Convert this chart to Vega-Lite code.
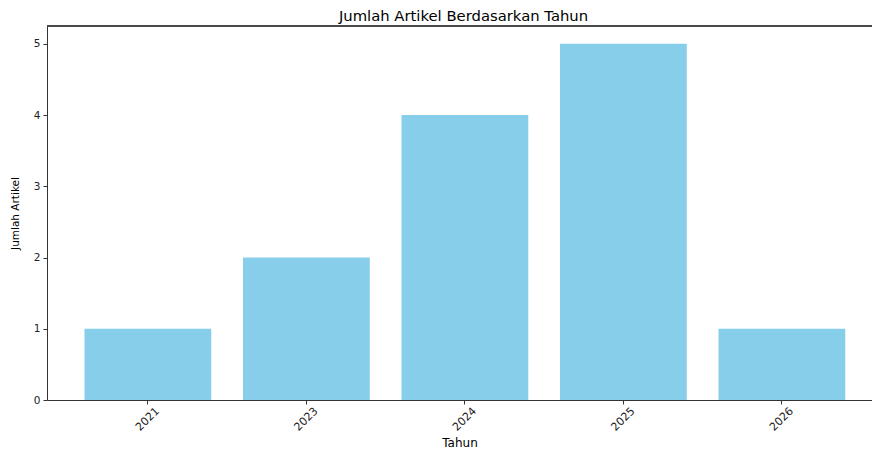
{
  "$schema": "https://vega.github.io/schema/vega-lite/v6.json",
  "width": 825,
  "height": 374,
  "autosize": "none",
  "padding": {"left": 47, "top": 26, "right": 0, "bottom": 50},
  "background": "white",
  "config": {
    "font": "DejaVu Sans",
    "view": {"stroke": null}
  },
  "title": {
    "text": "Jumlah Artikel Berdasarkan Tahun",
    "fontSize": 14.8,
    "fontWeight": "normal",
    "color": "#000",
    "anchor": "middle",
    "dx": 4,
    "dy": 16,
    "offset": 3,
    "baseline": "bottom"
  },
  "data": {
    "values": [
      {"Tahun": "2021", "Jumlah": 1},
      {"Tahun": "2023", "Jumlah": 2},
      {"Tahun": "2024", "Jumlah": 4},
      {"Tahun": "2025", "Jumlah": 5},
      {"Tahun": "2026", "Jumlah": 1}
    ]
  },
  "layer": [
    {
      "mark": {"type": "bar", "color": "#87CEEB"},
      "encoding": {
        "x": {
          "field": "Tahun",
          "type": "nominal",
          "scale": {"paddingInner": 0.2, "paddingOuter": 0.2025, "align": 0.584},
          "axis": {
            "title": "Tahun",
            "titleFontSize": 12,
            "titleFontWeight": "normal",
            "titleColor": "#000",
            "titleY": 46,
            "titleBaseline": "alphabetic",
            "labelAngle": -45,
            "labelAlign": "center",
            "labelBaseline": "middle",
            "labelPadding": 15,
            "labelFontSize": 11,
            "labelColor": "#222",
            "tickSize": 4,
            "tickColor": "#000",
            "tickWidth": 0.8,
            "domainColor": "#333",
            "domainWidth": 1,
            "grid": false
          }
        },
        "y": {
          "field": "Jumlah",
          "type": "quantitative",
          "scale": {"domain": [0, 5.25], "nice": false},
          "axis": {
            "title": "Jumlah Artikel",
            "titleFontSize": 10.5,
            "titleFontWeight": "normal",
            "titleColor": "#000",
            "titleX": -32,
            "titleY": 187,
            "titleAlign": "center",
            "titleBaseline": "middle",
            "titleAngle": -90,
            "values": [0, 1, 2, 3, 4, 5],
            "format": "d",
            "labelFontSize": 10.5,
            "labelColor": "#222",
            "labelPadding": 3,
            "tickSize": 4,
            "tickColor": "#000",
            "tickWidth": 0.8,
            "domainColor": "#333",
            "domainWidth": 1,
            "grid": false
          }
        }
      }
    },
    {
      "mark": {"type": "rule", "color": "#444", "strokeWidth": 1},
      "encoding": {"y": {"datum": 5.25}}
    }
  ]
}
